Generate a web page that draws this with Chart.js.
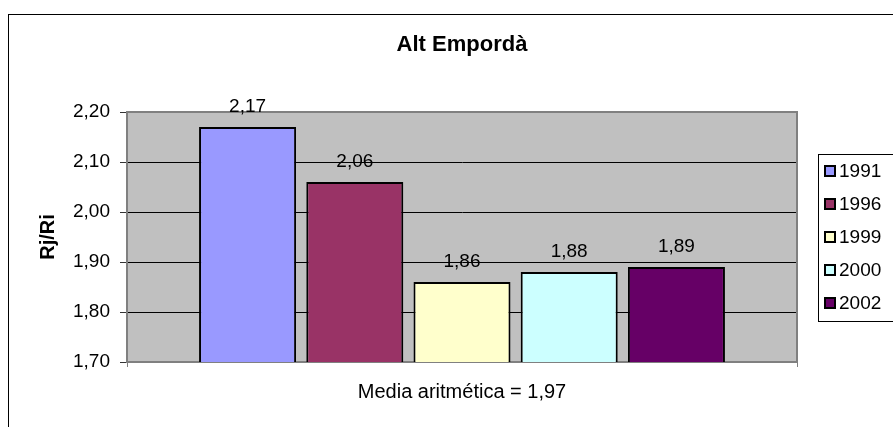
<!DOCTYPE html>
<html>
<head>
<meta charset="utf-8">
<script src="https://cdn.jsdelivr.net/npm/chart.js@4/dist/chart.umd.min.js"></script>
<style>
  html, body { margin: 0; padding: 0; background: #fff; overflow: hidden; }
  #wrap { position: relative; width: 893px; height: 427px; }
  #frame { position: absolute; left: 8px; top: 14px; width: 900px; height: 430px;
           border-left: 1px solid #000; border-top: 1px solid #000; }
  canvas { position: absolute; left: 0; top: 0; }
</style>
</head>
<body>
<div id="wrap">
  <div id="frame"></div>
  <canvas id="chart" width="893" height="427"></canvas>
</div>
<script>
const years = ['1991', '1996', '1999', '2000', '2002'];
const values = [2.17, 2.06, 1.86, 1.88, 1.89];
const colors = ['#9999FF', '#993366', '#FFFFCC', '#CCFFFF', '#660066'];
const yTicks = [1.7, 1.8, 1.9, 2.0, 2.1, 2.2];
const chartTitle = 'Alt Empordà';
const yTitle = 'Rj/Ri';
const xTitle = 'Media aritmética = 1,97';

const FONT = 'Liberation Sans, Arial, sans-serif';
const fmt = v => v.toFixed(2).replace('.', ',');

// gray plot area + border
const plotArea = {
  id: 'plotArea',
  beforeDraw(chart) {
    const {ctx, chartArea: a} = chart;
    ctx.save();
    ctx.fillStyle = '#C0C0C0';
    ctx.fillRect(a.left, a.top, a.right - a.left, a.bottom - a.top);
    ctx.restore();
  },
  beforeDatasetsDraw(chart) {
    const {ctx, chartArea: a} = chart;
    ctx.save();
    ctx.strokeStyle = '#808080';
    ctx.lineWidth = 2;
    ctx.strokeRect(a.left, a.top, a.right - a.left, a.bottom - a.top);
    ctx.restore();
  }
};

// value labels above bars
const barLabels = {
  id: 'barLabels',
  afterDatasetsDraw(chart) {
    const ctx = chart.ctx;
    ctx.save();
    ctx.font = '19px ' + FONT;
    ctx.fillStyle = '#000';
    ctx.textAlign = 'center';
    ctx.textBaseline = 'alphabetic';
    chart.data.datasets.forEach((ds, i) => {
      chart.getDatasetMeta(i).data.forEach((el, j) => {
        ctx.fillText(fmt(ds.data[j]), el.x, el.y - 15);
      });
    });
    ctx.restore();
  }
};

// boxed legend on the right, like the Excel one
const sideLegend = {
  id: 'sideLegend',
  afterDraw(chart) {
    const ctx = chart.ctx;
    ctx.save();
    ctx.fillStyle = '#fff';
    ctx.strokeStyle = '#000';
    ctx.lineWidth = 1;
    ctx.fillRect(818.5, 154.5, 90, 167);
    ctx.strokeRect(818.5, 154.5, 90, 167);
    ctx.font = '19px ' + FONT;
    ctx.textBaseline = 'middle';
    ctx.textAlign = 'left';
    chart.data.datasets.forEach((ds, i) => {
      const y = 171 + i * 33;
      ctx.fillStyle = ds.backgroundColor;
      ctx.fillRect(825, y - 5, 10, 10);
      ctx.lineWidth = 2;
      ctx.strokeStyle = '#000';
      ctx.strokeRect(825, y - 5, 10, 10);
      ctx.fillStyle = '#000';
      ctx.fillText(ds.label, 839, y + 1);
    });
    ctx.restore();
  }
};

new Chart(document.getElementById('chart'), {
  type: 'bar',
  data: {
    labels: [''],
    datasets: years.map((y, i) => ({
      label: y,
      data: [values[i]],
      backgroundColor: colors[i],
      borderColor: '#000',
      borderWidth: 2,
      categoryPercentage: 0.8,
      barPercentage: 0.905
    }))
  },
  options: {
    responsive: false,
    animation: false,
    layout: { padding: { left: 0, right: 96, top: 0, bottom: 0 } },
    plugins: {
      legend: { display: false },
      tooltip: { enabled: false },
      title: {
        display: true,
        text: chartTitle,
        fullSize: false,
        color: '#000',
        font: { family: FONT, size: 22, weight: 'bold' },
        padding: { top: 32, bottom: 53.6 }
      }
    },
    scales: {
      x: {
        ticks: { display: false },
        grid: { display: true, drawOnChartArea: false, offset: true, tickLength: 5, color: '#808080' },
        border: { color: '#808080', width: 2 },
        title: {
          display: true,
          text: xTitle,
          color: '#000',
          font: { family: FONT, size: 20 },
          padding: { top: 0, bottom: 23 }
        },
        afterFit(scale) { scale.height = 65; }
      },
      y: {
        min: yTicks[0],
        max: yTicks[yTicks.length - 1],
        afterBuildTicks(scale) { scale.ticks = yTicks.map(v => ({ value: v })); },
        ticks: {
          color: '#000',
          font: { family: FONT, size: 19 },
          padding: 10,
          callback: v => fmt(v)
        },
        grid: {
          color: ctx => (ctx.tick && (ctx.tick.value === yTicks[0] || ctx.tick.value === yTicks[yTicks.length - 1])) ? '#808080' : '#000',
          tickColor: '#333',
          tickLength: 7,
          lineWidth: 1
        },
        border: { color: '#808080', width: 2 },
        title: {
          display: true,
          text: yTitle,
          color: '#000',
          font: { family: FONT, size: 20, weight: 'bold' },
          padding: { top: 36, bottom: 0 }
        },
        afterFit(scale) { scale.width = 127; }
      }
    }
  },
  plugins: [plotArea, barLabels, sideLegend]
});
</script>
</body>
</html>
